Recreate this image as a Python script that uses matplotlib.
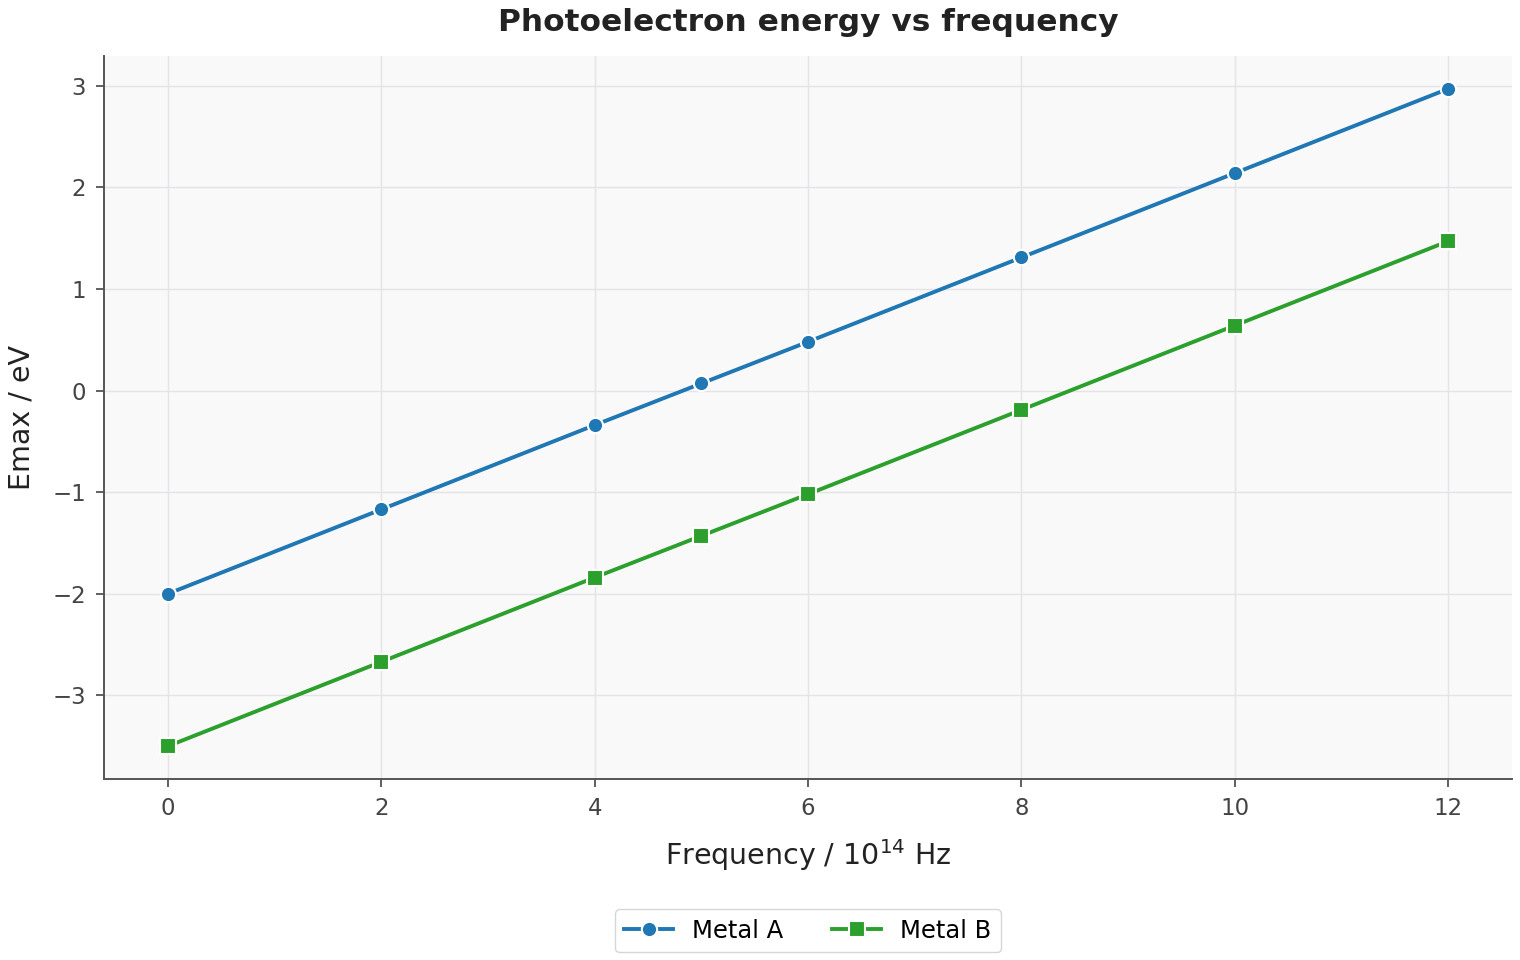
import numpy as np
import matplotlib
matplotlib.use('Agg')
import matplotlib.pyplot as plt

matplotlib.rcParams['font.family'] = 'DejaVu Sans'

# data
freq = [0, 2, 4, 5, 6, 8, 10, 12]
metal_a = [-2.00, -1.17, -0.34, 0.07, 0.48, 1.31, 2.14, 2.97]
metal_b = [-3.50, -2.67, -1.84, -1.43, -1.02, -0.19, 0.64, 1.47]
series_names = ['Metal A', 'Metal B']

fig = plt.figure(figsize=(15.2, 9.6), dpi=100)
ax = fig.add_axes([104 / 1520, 1 - 779 / 960, (1512 - 104) / 1520, (779 - 56) / 960])
ax.set_facecolor('#f9f9f9')

ax.plot(freq, metal_a, color='#1f77b4', linewidth=2.8, marker='o', markersize=11,
        markeredgecolor='white', markeredgewidth=1.5, label=series_names[0], zorder=3)
ax.plot(freq, metal_b, color='#2ca02c', linewidth=2.8, marker='s', markersize=11,
        markeredgecolor='white', markeredgewidth=1.5, label=series_names[1], zorder=3)

ax.grid(True, color='#e3e3e8', linewidth=1)
ax.set_axisbelow(True)
for side in ['top', 'right']:
    ax.spines[side].set_visible(False)
for side in ['left', 'bottom']:
    ax.spines[side].set_color('#555555')
    ax.spines[side].set_linewidth(1.4)

ax.tick_params(axis='both', labelsize=16.5, colors='#444444', length=6, width=1.2, pad=7)
ax.set_xticks([0, 2, 4, 6, 8, 10, 12])
ax.set_yticks([-3, -2, -1, 0, 1, 2, 3])

ax.set_xlabel('Frequency / 10$^{14}$ Hz', fontsize=20.5, color='#222222', labelpad=12)
ax.set_ylabel('Emax / eV', fontsize=20.5, color='#222222', labelpad=12)
ax.set_title('Photoelectron energy vs frequency', fontsize=22.5, fontweight='bold',
             color='#222222', pad=18)

ax.legend(loc='upper center', bbox_to_anchor=(0.5, -0.163), ncol=2, fontsize=17.5,
          frameon=True, edgecolor='#cccccc', columnspacing=2.0, handlelength=2.0)

fig.savefig('out.png', dpi=100)
